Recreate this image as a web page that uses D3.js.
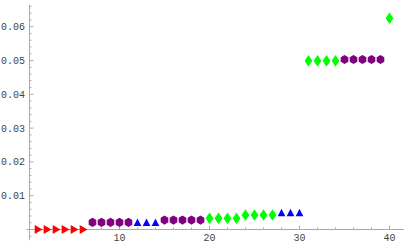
<!DOCTYPE html>
<html>
<head>
<meta charset="utf-8">
<script src="https://cdn.jsdelivr.net/npm/d3@7"></script>
<style>
  body { margin: 0; background: #fff; }
  svg { display: block; }
  .tick-label { font-family: "Liberation Mono", "DejaVu Sans Mono", monospace; font-size: 10px; fill: #444; }
</style>
</head>
<body>
<div id="chart-area"></div>
<script>
// point groups: index on x, value on y
const redX = [1, 2, 3, 4, 5, 6];
const redY = [0, 0, 0, 0, 0, 0];
const purpleX = [7, 8, 9, 10, 11, 15, 16, 17, 18, 19, 35, 36, 37, 38, 39];
const purpleY = [0.0021, 0.0021, 0.0021, 0.0021, 0.0021, 0.0028, 0.0028, 0.0028, 0.0028, 0.0028,
                 0.0503, 0.0503, 0.0503, 0.0503, 0.0503];
const blueX = [12, 13, 14, 28, 29, 30];
const blueY = [0.002, 0.002, 0.002, 0.0049, 0.0049, 0.0049];
const greenX = [20, 21, 22, 23, 24, 25, 26, 27, 31, 32, 33, 34, 40];
const greenY = [0.0033, 0.0033, 0.0033, 0.0033, 0.0043, 0.0043, 0.0043, 0.0043,
                0.0499, 0.0499, 0.0499, 0.0499, 0.0625];

const xTicks = [10, 20, 30, 40];
const yTicks = [0.01, 0.02, 0.03, 0.04, 0.05, 0.06];

const chartSize = { width: 404, height: 250 };

const x = d3.scaleLinear().domain([0, 40]).range([29.5, 389.5]);
const y = d3.scaleLinear().domain([0, 0.06]).range([229.5, 26.7]);

const svg = d3.select("#chart-area")
  .append("svg")
  .attr("width", chartSize.width)
  .attr("height", chartSize.height);

const axisColor = "#aaa";

// axes lines
svg.append("line")
  .attr("x1", x(-0.35)).attr("x2", chartSize.width)
  .attr("y1", y(0)).attr("y2", y(0))
  .attr("stroke", axisColor).attr("stroke-width", 1);
svg.append("line")
  .attr("x1", x(0)).attr("x2", x(0))
  .attr("y1", y(0.0665)).attr("y2", y(-0.0032))
  .attr("stroke", axisColor).attr("stroke-width", 1);

// x ticks: minor every 2, major every 10
const xMinor = d3.range(2, 42, 2);
svg.append("g").selectAll("line").data(xMinor).join("line")
  .attr("x1", d => x(d)).attr("x2", d => x(d))
  .attr("y1", y(0)).attr("y2", d => y(0) - (d % 10 === 0 ? 4 : 2))
  .attr("stroke", axisColor);
svg.append("g").selectAll("text").data(xTicks).join("text")
  .attr("class", "tick-label")
  .attr("x", d => x(d)).attr("y", 241)
  .attr("text-anchor", "middle")
  .text(d => d);

// y ticks: minor every 0.002, major every 0.01
const yMinor = d3.range(-1, 34).map(i => i * 0.002);
svg.append("g").selectAll("line").data(yMinor).join("line")
  .attr("x1", x(0)).attr("x2", (d, i) => x(0) + ((i - 1) % 5 === 0 ? 4 : 2))
  .attr("y1", d => y(d)).attr("y2", d => y(d))
  .attr("stroke", axisColor);
svg.append("g").selectAll("text").data(yTicks).join("text")
  .attr("class", "tick-label")
  .attr("x", 25).attr("y", d => y(d))
  .attr("dy", "0.35em")
  .attr("text-anchor", "end")
  .text(d => d.toFixed(2));

// marker shapes
const shapes = {
  rightTri: "M-3.8,-4.5L4,0L-3.8,4.5Z",
  upTri: "M0,-4.2L3.8,3.2L-3.8,3.2Z",
  hex: d3.range(6).map(i => {
    const a = Math.PI / 3 * i - Math.PI / 2;
    return [4.4 * Math.cos(a), 4.6 * Math.sin(a)];
  }).map((p, i) => (i ? "L" : "M") + p[0].toFixed(2) + "," + p[1].toFixed(2)).join("") + "Z",
  diamond: "M0,-5.8L3.9,0L0,5.8L-3.9,0Z"
};

const drawPoints = (xs, ys, shape, color) => {
  svg.append("g").selectAll("path").data(xs.map((d, i) => [d, ys[i]])).join("path")
    .attr("d", shapes[shape])
    .attr("transform", d => `translate(${x(d[0])},${y(d[1])})`)
    .attr("fill", color);
};

drawPoints(redX, redY, "rightTri", "#ff0000");
drawPoints(purpleX, purpleY, "hex", "#800080");
drawPoints(blueX, blueY, "upTri", "#0000ff");
drawPoints(greenX, greenY, "diamond", "#00ff00");
</script>
</body>
</html>
